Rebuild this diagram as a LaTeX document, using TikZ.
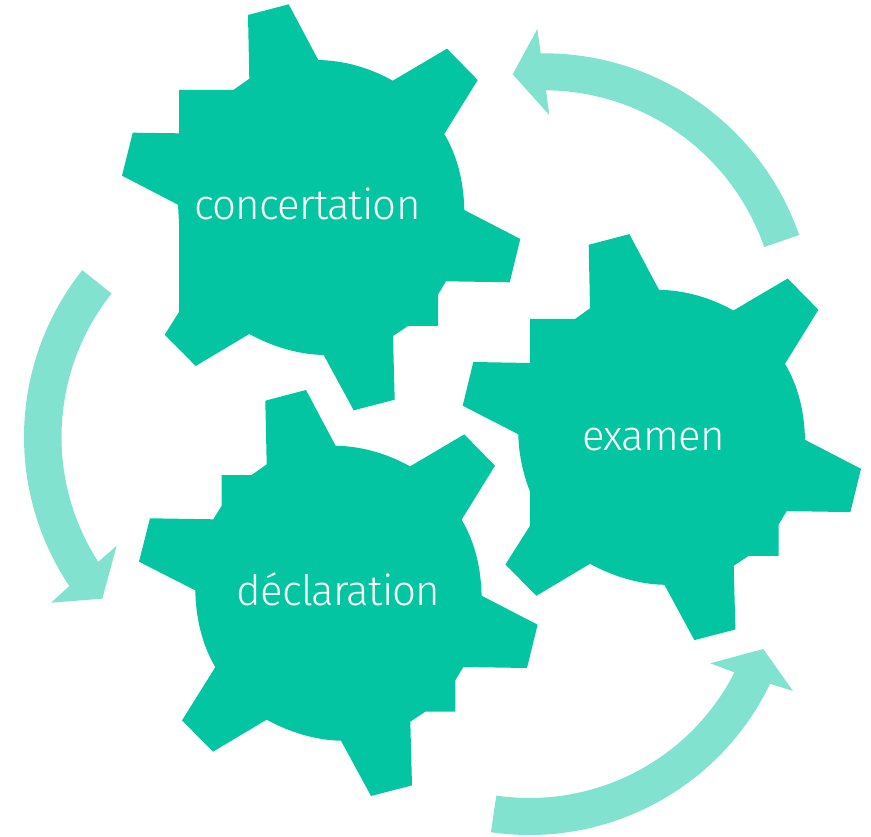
\documentclass[tikz,border=0pt]{standalone}
\usepackage{fontspec}
\setmainfont[LetterSpace=-2]{Fira Sans Light}
\usetikzlibrary{calc}
\definecolor{gearc}{HTML}{04C5A2}
\definecolor{arrowc}{HTML}{81E2CF}
\tikzset{
  gearfill/.style={fill=gearc,draw=none},
  arrowfill/.style={fill=arrowc,draw=none},
  gearlabel/.style={text=white,anchor=base,inner sep=0pt,font=\fontsize{42}{42}\selectfont},
}
% common clockwise part of a gear, from the top tooth round to the south-west tooth
\newcommand{\gearcommon}{
  (248,15) -- (288.7,4.3) -- (318.3,60)
  .. controls (344.3,60.5) and (370.1,67.9) .. (392.7,80.7)
  -- (447,48.7) -- (477.7,80) -- (444.3,134)
  .. controls (458,156.9) and (463.8,183.3) .. (464.3,210)
  -- (520.3,239) -- (509.7,282.3) -- (446,281.3) -- (438,294.7) -- (438,326)
  -- (408,326) -- (393,336) -- (394.7,399.7) -- (353.7,410.3) -- (323.7,355)
  .. controls (297.7,354.5) and (271.9,346.3) .. (249.3,334)
  -- (195.7,366) -- (164.7,334.7)
}
\begin{document}
\begin{tikzpicture}[x=1pt,y=-1pt]
\useasboundingbox (0,0) rectangle (871,837);
% gear: concertation
\fill[gearfill] \gearcommon
  -- (179,312) -- (179,223) -- (178,204.7) -- (122,175.7) -- (132.7,132.7)
  -- (179,133.3) -- (179,90) -- (233.3,90) -- (249.3,78.7) -- cycle;
% gear: examen
\begin{scope}[shift={(340.7,229.8)}]
\fill[gearfill] \gearcommon
  -- (189.3,295.9) -- (189.3,261.9)
  .. controls (182,243) and (178,224) .. (177.6,204.5)
  -- (122,175.9) -- (132.6,132.2) -- (189.3,133.2) -- (189.3,89.2)
  -- (234.3,89.2) -- (249.3,78.5) -- cycle;
\end{scope}
% gear: declaration
\begin{scope}[shift={(17.3,385.7)}]
\fill[gearfill] \gearcommon
  -- (198,281.5)
  .. controls (184.3,258) and (178.5,231.4) .. (178,204.7)
  -- (121.7,176) -- (132.7,132.6) -- (196,133.6) -- (204.4,120) -- (204.4,89.3)
  -- (234.4,89.3) -- (249.4,78.6) -- cycle;
\end{scope}
% arrows
\coordinate (ctop) at (544,323.3);
\coordinate (cleft) at (292,437);
\coordinate (cbot) at (529.5,568);
\fill[arrowfill] ($(ctop)+(-19.1:270)$) arc[start angle=-19.1,end angle=-90.7,radius=270]
  -- (537.3,29) -- (512.7,74.3) -- (549.3,115) -- ($(ctop)+(-89.5:233)$)
  arc[start angle=-89.5,end angle=-19.1,radius=233] -- cycle;
\fill[arrowfill] ($(cleft)+(-141.5:268)$) arc[start angle=-141.5,end angle=-213.8,radius=268]
  -- (51,602.7) -- (102.3,598.7) -- (116.7,545.7) -- ($(cleft)+(-212.8:230.5)$)
  arc[start angle=-212.8,end angle=-141.5,radius=230.5] -- cycle;
\fill[arrowfill] ($(cbot)+(-261.7:267)$) arc[start angle=-261.7,end angle=-334.3,radius=267]
  -- (793,691) -- (763.3,649) -- (710.3,663.3) -- ($(cbot)+(-333:230)$)
  arc[start angle=-333,end angle=-261.7,radius=230] -- cycle;
% labels
\node[gearlabel] (concertation) at (307.5,220) {concertation};
\node[gearlabel] (examen) at (653.5,450) {examen};
\node[gearlabel] (declaration) at (338.5,605.7) {déclaration};
\end{tikzpicture}
\end{document}
